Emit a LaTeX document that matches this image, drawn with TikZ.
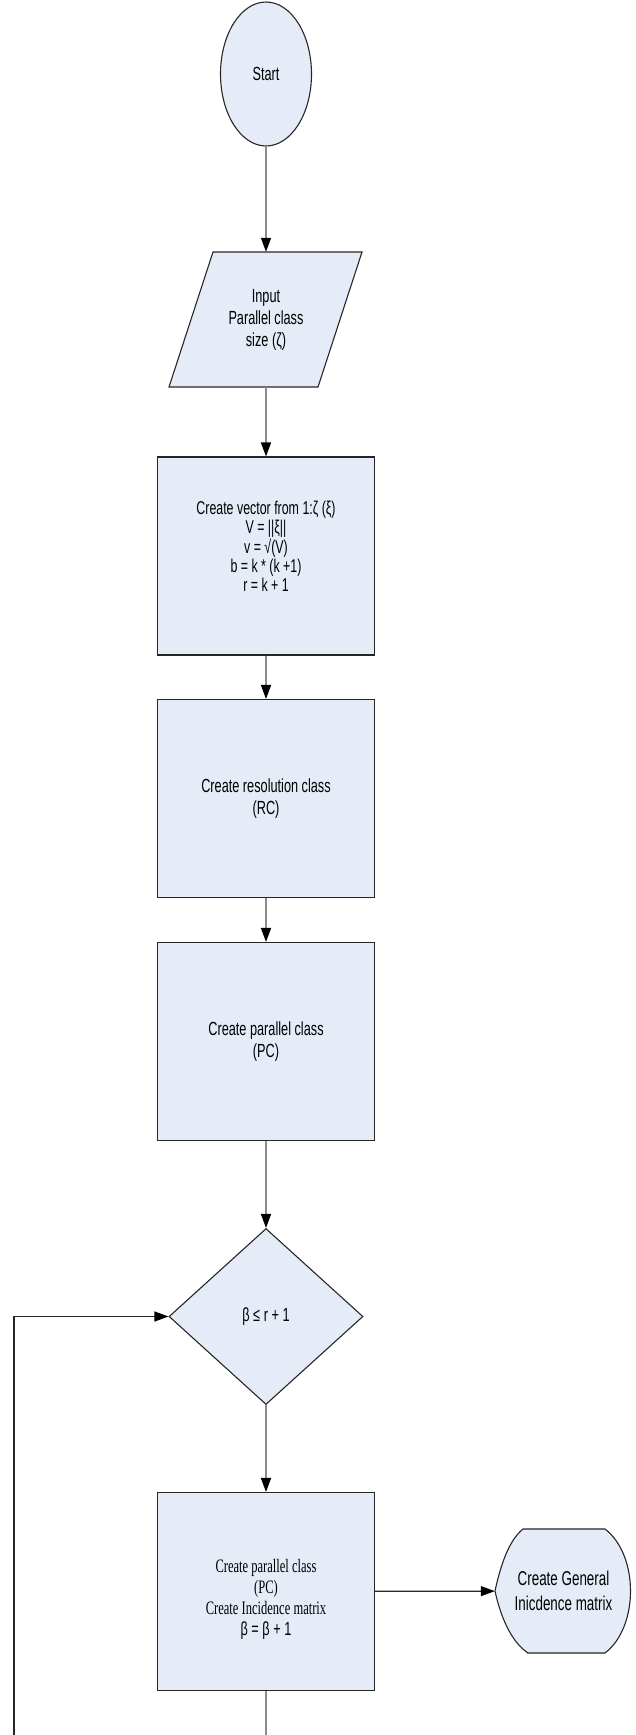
\documentclass[tikz,border=0pt]{standalone}
\usepackage{fontspec}
\setmainfont{Liberation Sans}[FakeStretch=0.67]
\newfontfamily\serifpart{Liberation Serif}[FakeStretch=0.66]
\usetikzlibrary{shapes.geometric,arrows.meta}

\definecolor{boxfill}{HTML}{E6ECF7}
\definecolor{wire}{HTML}{8C8C8C}

\begin{document}
\begin{tikzpicture}
[
  x=1pt, y=-1pt,
  every node/.style={align=center, font=\fontsize{19}{22}\selectfont},
  shapeline/.style={draw=black!85, line width=1.1pt, fill=boxfill},
  block/.style={shapeline, rectangle, minimum width=217pt, minimum height=198pt, inner sep=0pt},
  flow/.style={-{Triangle[length=14pt,width=10pt,color=black]}, draw=wire, line width=1.4pt},
  back/.style={-{Triangle[length=14pt,width=10pt,color=black]}, draw=black!85, line width=1.2pt}
]
\useasboundingbox (0,0) rectangle (636,1735);

\node[shapeline, ellipse, minimum width=91pt, minimum height=144pt, inner sep=0pt] (start) at (266,74) {Start};

% input parallelogram, outline drawn round the node
\draw[shapeline] (213,252) -- (362,252) -- (318,387) -- (169,387) -- cycle;
\node[rectangle, minimum width=193pt, minimum height=135pt, inner sep=0pt]
  (input) at (266,319.5) {Input\\Parallel class\\size (ζ)};

\node[block, font=\fontsize{18.5}{19.3}\selectfont] (vec) at (266,556)
  {Create vector from 1:ζ (ξ)\\V = ||ξ||\\v = √(V)\\b = k * (k +1)\\r = k + 1\rule[-19pt]{0pt}{1pt}};

\node[block] (rc) at (266,798.5) {Create resolution class\\(RC)};
\node[block] (pc) at (266,1041.5) {Create parallel class\\(PC)};

\node[shapeline, diamond, minimum width=194pt, minimum height=176pt, inner sep=0pt] (test) at (266,1316.5) {β ≤ r + 1};

\node[block, font=\fontsize{19}{20.7}\selectfont] (pcb) at (266,1591.5)
  {{\serifpart\rule{0pt}{29pt}Create parallel class}\\{\serifpart (PC)}\\{\serifpart Create Incidence matrix}\\β = β + 1};

% display shape, outline drawn round the node
\node[rectangle, minimum width=137pt, minimum height=124pt, inner sep=0pt] (disp) at (563.5,1591) {};
\draw[shapeline] (495,1591) .. controls (500,1568) and (508,1541) .. (523,1529) -- (605,1529)
  .. controls (639,1555) and (639,1627) .. (605,1653) -- (528,1653)
  .. controls (510,1641) and (500,1614) .. cycle;
\node[font=\fontsize{20}{25}\selectfont] (disptext) at (disp) {Create General\\Inicdence matrix};

\coordinate (pcend) at (266,1735);
\coordinate (loopend) at (14,1735);

\path[flow]
  (start) edge (input)
  (input) edge (vec)
  (vec) edge (rc)
  (rc) edge (pc)
  (pc) edge (test)
  (test) edge (pcb);

\draw[back] (pcb) -- (disp);
\draw[back] (loopend) |- (test);
\draw[draw=wire, line width=1.4pt] (pcb) -- (pcend);
\end{tikzpicture}
\end{document}
